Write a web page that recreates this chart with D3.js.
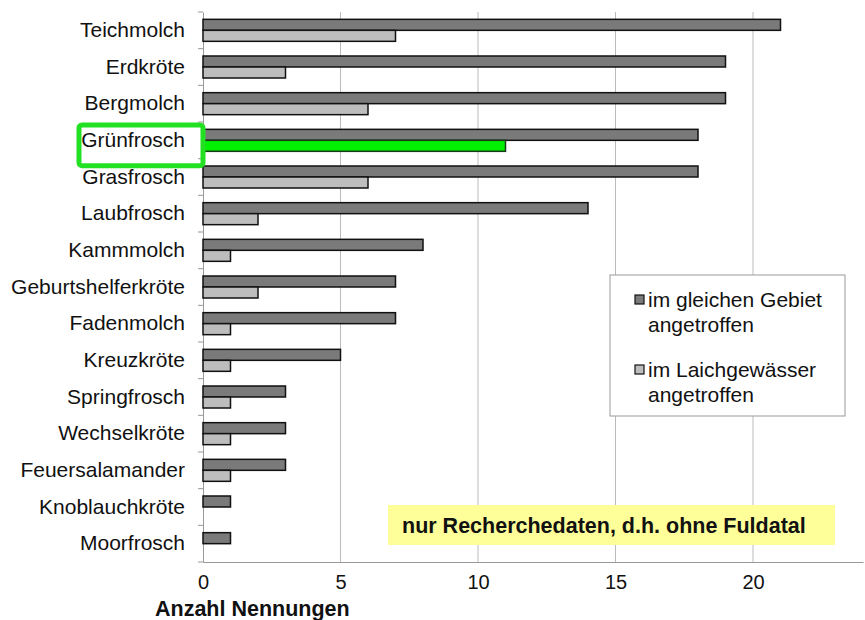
<!DOCTYPE html>
<html>
<head>
<meta charset="utf-8">
<script src="https://cdn.jsdelivr.net/npm/d3@7"></script>
<style>
  body { margin: 0; background: #fff; }
  text { font-family: Arial, "Liberation Sans", sans-serif; fill: #111; }
</style>
</head>
<body>
<svg width="865" height="620"></svg>
<script>
// data
var categories = ["Teichmolch", "Erdkröte", "Bergmolch", "Grünfrosch", "Grasfrosch", "Laubfrosch",
  "Kammmolch", "Geburtshelferkröte", "Fadenmolch", "Kreuzkröte", "Springfrosch", "Wechselkröte",
  "Feuersalamander", "Knoblauchkröte", "Moorfrosch"];
var gebiet = [21, 19, 19, 18, 18, 14, 8, 7, 7, 5, 3, 3, 3, 1, 1];
var laich = [7, 3, 6, 11, 6, 2, 1, 2, 1, 1, 1, 1, 1, 0, 0];
var xTicks = [0, 5, 10, 15, 20];
var seriesNames = ["im gleichen Gebiet|angetroffen", "im Laichgewässer|angetroffen"];
var highlight = "Grünfrosch";

var FONT = "Arial, 'Liberation Sans', sans-serif";
var svg = d3.select("svg");
var margin = {top: 12, right: 2, bottom: 58, left: 203};
var width = 865 - margin.left - margin.right;
var height = 620 - margin.top - margin.bottom;

var x = d3.scaleLinear().domain([0, 24]).range([0, width]);
var y = d3.scaleBand().domain(categories).range([0, height]);

var g = svg.append("g")
  .attr("transform", "translate(" + margin.left + "," + margin.top + ")");

// vertical grid
g.selectAll(".grid")
  .data(xTicks.slice(1))
  .enter().append("line")
  .attr("x1", function(d) { return x(d); })
  .attr("x2", function(d) { return x(d); })
  .attr("y1", 0)
  .attr("y2", height)
  .attr("stroke", "#bbb")
  .attr("stroke-width", 1);

// x axis
var xAxis = g.append("g")
  .attr("transform", "translate(0," + height + ")")
  .call(d3.axisBottom(x).tickValues(xTicks).tickSize(0).tickPadding(13));
xAxis.select(".domain").attr("stroke", "#999");
xAxis.selectAll("text").style("font-size", "20px").style("font-family", FONT).attr("fill", "#111");

// y axis with ticks between categories
var yAxis = g.append("g").call(d3.axisLeft(y).tickSize(0).tickPadding(18));
yAxis.select(".domain").attr("stroke", "#999");
yAxis.selectAll("text").style("font-size", "21px").style("font-family", FONT).attr("fill", "#111");
g.selectAll(".ytick")
  .data(d3.range(categories.length + 1))
  .enter().append("line")
  .attr("x1", -5).attr("x2", 0)
  .attr("y1", function(i) { return i * y.step(); })
  .attr("y2", function(i) { return i * y.step(); })
  .attr("stroke", "#999");

var barH = 11;

// bars: dark series
g.selectAll(".bar1")
  .data(categories)
  .enter().append("rect")
  .attr("x", x(0))
  .attr("y", function(d) { return y(d) + y.bandwidth() / 2 - barH; })
  .attr("width", function(d, i) { return x(gebiet[i]) - x(0); })
  .attr("height", barH)
  .attr("fill", "#7a7a7a")
  .attr("stroke", "#111")
  .attr("stroke-width", 1.5);

// bars: light series
g.selectAll(".bar2")
  .data(categories.filter(function(d, i) { return laich[i] > 0; }))
  .enter().append("rect")
  .attr("x", x(0))
  .attr("y", function(d) { return y(d) + y.bandwidth() / 2; })
  .attr("width", function(d) { return x(laich[categories.indexOf(d)]) - x(0); })
  .attr("height", barH)
  .attr("fill", function(d) { return d === highlight ? "#00f000" : "#bdbdbd"; })
  .attr("stroke", function(d) { return d === highlight ? "#1a3a1a" : "#111"; })
  .attr("stroke-width", 1.5);

// highlight box around label
g.append("rect")
  .attr("x", -124)
  .attr("y", y(highlight) + 3)
  .attr("width", 124)
  .attr("height", y.bandwidth() + 4)
  .attr("rx", 3)
  .attr("fill", "none")
  .attr("stroke", "#22e022")
  .attr("stroke-width", 5);

// legend
var legend = svg.append("g").attr("transform", "translate(610,275)");
legend.append("rect")
  .attr("width", 235).attr("height", 141)
  .attr("fill", "#fff").attr("stroke", "#999");
var legFill = ["#7a7a7a", "#bdbdbd"];
seriesNames.forEach(function(name, i) {
  var row = legend.append("g").attr("transform", "translate(0," + (i * 70) + ")");
  row.append("rect")
    .attr("x", 25).attr("y", 20).attr("width", 9).attr("height", 9)
    .attr("fill", legFill[i]).attr("stroke", "#111").attr("stroke-width", 1.2);
  name.split("|").forEach(function(line, j) {
    row.append("text")
      .attr("x", 38).attr("y", 32 + j * 25)
      .style("font-size", "21px")
      .text(line);
  });
});

// note box
svg.append("rect")
  .attr("x", 388).attr("y", 505).attr("width", 447).attr("height", 40)
  .attr("fill", "#ffff99");
svg.append("text")
  .attr("x", 402).attr("y", 533)
  .style("font-size", "21.5px").style("font-weight", "bold")
  .text("nur Recherchedaten, d.h. ohne Fuldatal");

// axis title
svg.append("text")
  .attr("x", 155).attr("y", 616)
  .style("font-size", "21.5px").style("font-weight", "bold")
  .text("Anzahl Nennungen");
</script>
</body>
</html>
